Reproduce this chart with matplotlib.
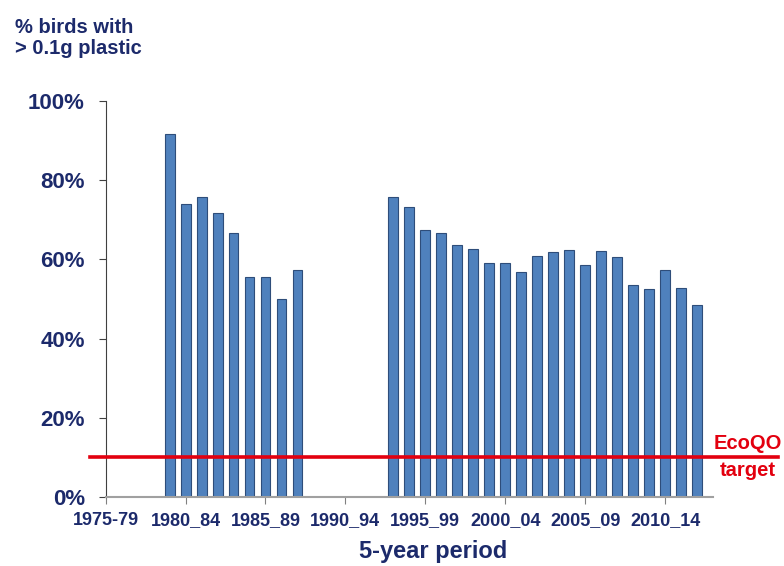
import numpy as np
import matplotlib
matplotlib.use("Agg")
import matplotlib.pyplot as plt

plt.rcParams['font.family'] = ['Liberation Sans', 'DejaVu Sans']

# one bar per rolling 5-year period, starting 1975-79 ... 2012-16
start_years = list(range(1975, 2013))
pct_plastic = [
    None, None, None, None,
    91.6, 74.0, 75.7, 71.6, 66.6, 55.6, 55.6, 50.1, 57.2,
    None, None, None, None, None,
    75.8, 73.3, 67.3, 66.7, 63.7, 62.5, 59.1, 59.1, 56.9, 60.9,
    61.8, 62.4, 58.5, 62.1, 60.5, 53.6, 52.6, 57.2, 52.8, 48.5,
]
tick_pos = [0, 5, 10, 15, 20, 25, 30, 35]
tick_labels = ['1975-79', '1980_84', '1985_89', '1990_94',
               '1995_99', '2000_04', '2005_09', '2010_14']
y_ticks = [0, 20, 40, 60, 80, 100]
target = 10

navy = '#1c2a6b'
red = '#e3000f'

fig = plt.figure(figsize=(7.84, 5.66), dpi=100)
ax = fig.add_axes([0.1348, 0.1219, 0.7746, 0.6997])

x = np.arange(len(start_years))
vals = np.array([np.nan if v is None else v for v in pct_plastic])
ax.bar(x, vals, width=0.62, color='#4f81bd', edgecolor='#2e4d7a', linewidth=0.8, zorder=2)

ax.set_xlim(0, 38)
ax.set_ylim(0, 100)
ax.set_xticks(tick_pos)
ax.set_xticklabels(tick_labels, fontsize=13, fontweight='bold', color=navy)
ax.set_yticks(y_ticks)
ax.set_yticklabels([f'{t}%' for t in y_ticks], fontsize=16, fontweight='bold', color=navy)
ax.tick_params(axis='x', length=5, color='#808080', pad=6)
ax.tick_params(axis='y', length=5, color='#404040', pad=10)

for s in ['top', 'right']:
    ax.spines[s].set_visible(False)
ax.spines['left'].set_color('#404040')
ax.spines['bottom'].set_color('#a0a0a0')
ax.spines['bottom'].set_linewidth(1.5)

# EcoQO target line, runs past the axes on both sides
ax.axhline(target, xmin=-0.026, xmax=1.107, color=red, linewidth=2.6, clip_on=False, zorder=3)
ax.text(1.058, target + 1.2, 'EcoQO', transform=ax.get_yaxis_transform(), color=red,
        fontsize=14.5, fontweight='bold', ha='center', va='bottom')
ax.text(1.058, target - 0.8, 'target', transform=ax.get_yaxis_transform(), color=red,
        fontsize=14.5, fontweight='bold', ha='center', va='top')

fig.text(0.019, 0.968, '% birds with\n> 0.1g plastic', fontsize=14.5, fontweight='bold',
         color=navy, ha='left', va='top', linespacing=1.1)
fig.text(0.553, 0.025, '5-year period', fontsize=17, fontweight='bold', color=navy,
         ha='center', va='center')

fig.savefig('out.png', dpi=100)
